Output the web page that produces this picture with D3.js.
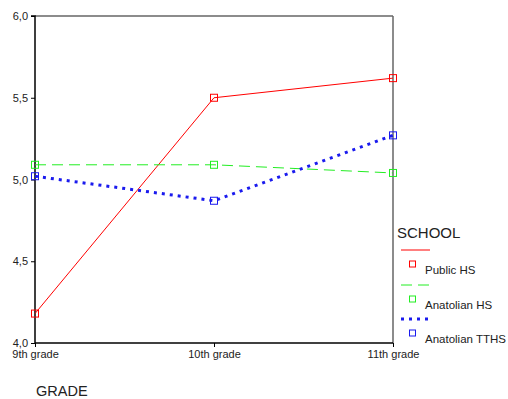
<!DOCTYPE html>
<html><head><meta charset="utf-8">
<script src="https://cdn.jsdelivr.net/npm/d3@7"></script>
<style>body{margin:0;background:#fff;}svg{display:block;font-family:Arial,"Liberation Sans",sans-serif;}</style>
</head><body>
<svg id="c" width="508" height="399"></svg>
<script>
const categories = ["9th grade","10th grade","11th grade"];
const seriesNames = ["Public HS","Anatolian HS","Anatolian TTHS"];
const publicHS = [4.18, 5.50, 5.62];
const anatolianHS = [5.09, 5.09, 5.04];
const anatolianTTHS = [5.02, 4.87, 5.27];
const yTicks = [4.0, 4.5, 5.0, 5.5, 6.0];
const yTickLabels = ["4,0","4,5","5,0","5,5","6,0"];

const series = [
  {name: seriesNames[0], values: publicHS, color: "#ff0000", dash: null, width: 1},
  {name: seriesNames[1], values: anatolianHS, color: "#22ee22", dash: "11,6", width: 1},
  {name: seriesNames[2], values: anatolianTTHS, color: "#1a1aee", dash: "3,5", width: 3}
];

const svg = d3.select("#c");
const L = 35, R = 393, T = 16, B = 343;
const x = d3.scalePoint().domain(categories).range([L, R]);
const y = d3.scaleLinear().domain([4, 6]).range([B, T]);

// frame top/right
svg.append("line").attr("x1", L).attr("x2", R).attr("y1", T).attr("y2", T).attr("stroke", "#666").attr("stroke-width", 1.5);
svg.append("line").attr("x1", R).attr("x2", R).attr("y1", T).attr("y2", B).attr("stroke", "#666").attr("stroke-width", 1.5);

// axes
const yAxis = d3.axisLeft(y).tickValues(yTicks).tickFormat((d, i) => yTickLabels[i]).tickSize(4).tickPadding(3);
const gy = svg.append("g").attr("transform", `translate(${L},0)`).call(yAxis);
gy.select(".domain").attr("stroke", "#000").attr("stroke-width", 1.5).attr("d", `M-4,${T}H0V${B}`);
gy.selectAll("text").attr("font-size", 11).attr("fill", "#222").attr("font-family", "Arial, 'Liberation Sans', sans-serif");

const xAxis = d3.axisBottom(x).tickSize(4).tickPadding(3);
const gx = svg.append("g").attr("transform", `translate(0,${B})`).call(xAxis);
gx.select(".domain").attr("stroke", "#000").attr("stroke-width", 1.5).attr("d", `M${L},0H${R}`);
gx.selectAll("text").attr("font-size", 11).attr("fill", "#222").attr("font-family", "Arial, 'Liberation Sans', sans-serif");

svg.append("text").attr("x", 36).attr("y", 396).attr("font-size", 14.5).attr("fill", "#222").text("GRADE");

// lines
const line = d3.line().x((d, i) => x(categories[i])).y(d => y(d));
series.forEach(s => {
  svg.append("path").attr("d", line(s.values)).attr("fill", "none")
    .attr("stroke", s.color).attr("stroke-width", s.width)
    .attr("stroke-dasharray", s.dash);
  svg.selectAll(null).data(s.values).enter().append("rect")
    .attr("x", (d, i) => x(categories[i]) - 3.5).attr("y", d => y(d) - 3.5)
    .attr("width", 7).attr("height", 7).attr("fill", "none")
    .attr("stroke", s.color).attr("stroke-width", 1);
});

// legend
svg.append("text").attr("x", 397).attr("y", 238).attr("font-size", 15).attr("fill", "#222").text("SCHOOL");
const legY = [250, 285, 319];
series.forEach((s, i) => {
  const ly = legY[i];
  svg.append("line").attr("x1", 401).attr("x2", 430).attr("y1", ly).attr("y2", ly)
    .attr("stroke", s.color).attr("stroke-width", s.width).attr("stroke-dasharray", s.dash);
  svg.append("rect").attr("x", 409.5).attr("y", ly + 11).attr("width", 6).attr("height", 6)
    .attr("fill", "none").attr("stroke", s.color).attr("stroke-width", 1);
  svg.append("text").attr("x", 425).attr("y", ly + 24).attr("font-size", 11.5).attr("fill", "#222").text(s.name);
});
</script>
</body></html>
